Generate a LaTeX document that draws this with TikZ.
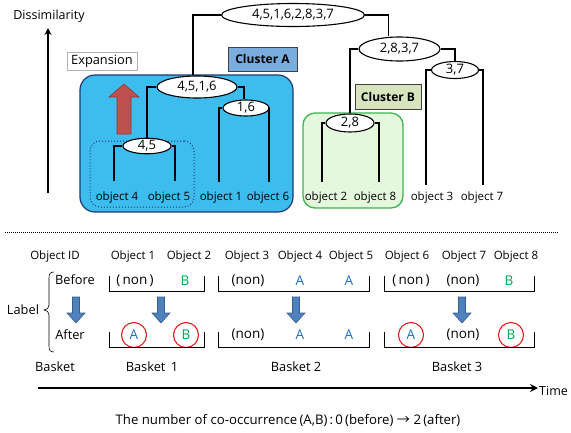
\documentclass[tikz,border=0pt]{standalone}
\usepackage{fontspec}
\setmainfont{Open Sans}
\newfontfamily\cjk{Noto Sans CJK JP}
\usetikzlibrary{shapes.geometric,arrows.meta}
\definecolor{skyA}{RGB}{61,189,238}
\definecolor{navyA}{RGB}{31,56,110}
\definecolor{clA}{RGB}{122,172,222}
\definecolor{clB}{RGB}{215,228,189}
\definecolor{grnF}{RGB}{228,248,222}
\definecolor{grnD}{RGB}{60,180,80}
\definecolor{redF}{RGB}{192,80,77}
\definecolor{redD}{RGB}{140,56,54}
\definecolor{bluF}{RGB}{79,129,189}
\definecolor{bluD}{RGB}{56,93,138}
\definecolor{txtA}{RGB}{30,110,190}
\definecolor{txtB}{RGB}{0,170,80}
\definecolor{circR}{RGB}{225,30,30}
\tikzset{
  ell/.style={ellipse,draw,fill=white,inner sep=0pt,line width=1.1pt,font=\fontsize{13}{15}\selectfont},
  dend/.style={line width=1.2pt},
  objlbl/.style={font=\fontsize{11.5}{13}\selectfont,inner sep=0pt},
  lbl/.style={font=\fontsize{11.5}{13}\selectfont,inner sep=0pt},
  rowlbl/.style={font=\fontsize{12.8}{15}\selectfont,inner sep=0pt},
  val/.style={font=\fontsize{13.5}{15}\selectfont,inner sep=0pt},
  tagbox/.style={draw=gray!70!black,line width=0.8pt,inner sep=0pt},
  circ/.style={circle,draw=circR,line width=1.1pt,minimum size=25pt,inner sep=0pt,font=\fontsize{13.5}{15}\selectfont},
  bracket/.style={line width=0.9pt},
  downarr/.pic={\filldraw[fill=bluF,draw=bluD,line width=0.6pt] (-3.5,0) -- (3.5,0) -- (3.5,16) -- (9,16) -- (0,26) -- (-9,16) -- (-3.5,16) -- cycle;},
}
\begin{document}
\begin{tikzpicture}[x=1pt,y=-1pt]
\useasboundingbox (0,0) rectangle (571,432);
% ---------- top: dendrogram ----------
\node[lbl,font=\fontsize{12.5}{14}\selectfont] (dis) at (49,16) {Dissimilarity};
\coordinate (disB) at (48,193);
\coordinate (disT) at (48,28);
\draw[line width=1.5pt,-{Stealth[length=7pt,width=7pt]}] (disB) -- (disT);

\node[tagbox,draw=gray!60,fill=white,minimum width=70pt,minimum height=18pt,font=\fontsize{12.8}{14}\selectfont] (exp) at (102,61) {Expansion};
\node[tagbox,draw=gray!50!black,fill=clA,minimum width=69pt,minimum height=24pt,font=\bfseries\fontsize{12}{14}\selectfont] (cla) at (262.5,59) {Cluster A};

\node[draw=navyA,fill=skyA,line width=1.2pt,rounded corners=15pt,minimum width=213pt,minimum height=137pt,inner sep=0pt] (boxA) at (186.5,143.5) {};
\node[draw=navyA,dotted,line width=1pt,rounded corners=10pt,minimum width=104pt,minimum height=66pt,inner sep=0pt] (box45) at (142,174) {};
\node[draw=grnD,fill=grnF,line width=1.3pt,rounded corners=12pt,minimum width=100pt,minimum height=95pt,inner sep=0pt] (boxB) at (353,160.5) {};
\node[tagbox,draw=gray!50!black,fill=clB,minimum width=66pt,minimum height=25pt,font=\bfseries\fontsize{12}{14}\selectfont] (clb) at (388,96.5) {Cluster B};

% red expansion arrow
\filldraw[fill=redF,draw=redD,line width=0.6pt] (117,134) -- (131,134) -- (131,97) -- (139,97) -- (124,84) -- (109,97) -- (117,97) -- cycle;

% ellipses
\node[ell,minimum width=143pt,minimum height=23pt] (eall) at (293,15) {4,5,1,6,2,8,3,7};
\node[ell,minimum width=81pt,minimum height=24pt] (e2837) at (399.5,49) {2,8,3,7};
\node[ell,minimum width=47pt,minimum height=17pt] (e37) at (455,70) {3,7};
\node[ell,minimum width=48pt,minimum height=18pt] (e28) at (350,123) {2,8};
\node[ell,minimum width=80pt,minimum height=22pt] (e4516) at (197,87) {4,5,1,6};
\node[ell,minimum width=46pt,minimum height=16pt] (e16) at (246,108) {1,6};
\node[ell,minimum width=48pt,minimum height=15pt] (e45) at (147,146) {4,5};

% object labels
\node[objlbl] (o4) at (117,198) {object 4};
\node[objlbl] (o5) at (169,198) {object 5};
\node[objlbl] (o1) at (221,198) {object 1};
\node[objlbl] (o6) at (268,198) {object 6};
\node[objlbl] (o2) at (326,198) {object 2};
\node[objlbl] (o8) at (375,198) {object 8};
\node[objlbl] (o3) at (432,198) {object 3};
\node[objlbl] (o7) at (482,198) {object 7};

% leaf line ends
\coordinate (l4) at (114,181);
\coordinate (l5) at (175,181);
\coordinate (l1) at (219,182);
\coordinate (l6) at (269,182);
\coordinate (l2) at (322,182);
\coordinate (l8) at (379,182);
\coordinate (l3) at (426,185);
\coordinate (l7) at (483,185);

\draw[dend] (l4) |- (e45.west);
\draw[dend] (l5) |- (e45.east);
\draw[dend] (l1) |- (e16.west);
\draw[dend] (l6) |- (e16.east);
\draw[dend] (l2) |- (e28.west);
\draw[dend] (l8) |- (e28.east);
\draw[dend] (l3) |- (e37.west);
\draw[dend] (l7) |- (e37.east);
\draw[dend] (e4516.west) -| (e45.north);
\draw[dend] (e4516.east) -| ([xshift=-2pt]e16.north);
\draw[dend] ([xshift=-4pt]e4516.north) |- (eall.west);
\draw[dend] (e2837.west) -| (e28.north);
\draw[dend] (e2837.east) -| (e37.north);
\draw[dend] (eall.east) -| ([xshift=-11pt]e2837.north);

% ---------- divider ----------
\coordinate (divL) at (5,232);
\coordinate (divR) at (558,232);
\draw[line width=1pt,dash pattern=on 1pt off 1pt] (divL) -- (divR);

% ---------- bottom table ----------
\node[lbl] (hid) at (55,257) {Object ID};
\node[lbl] (h1) at (133,257) {Object 1};
\node[lbl] (h2) at (189,257) {Object 2};
\node[lbl] (h3) at (247,257) {Object 3};
\node[lbl] (h4) at (300,257) {Object 4};
\node[lbl] (h5) at (351,257) {Object 5};
\node[lbl] (h6) at (407,257) {Object 6};
\node[lbl] (h7) at (464,257) {Object 7};
\node[lbl] (h8) at (516,257) {Object 8};

\node[rowlbl] (before) at (75,280) {Before};
\node[rowlbl] (after) at (70,335) {After};
\node[rowlbl] (label) at (23,310) {Label};
\node[rowlbl] (basket) at (55,367) {Basket};
\draw[line width=0.6pt] (54,272) .. controls (50,272) and (49,274) .. (49,278) -- (49,305) .. controls (49,308) and (47,310) .. (44,310) .. controls (47,310) and (49,312) .. (49,315) -- (49,346) .. controls (49,350) and (50,352) .. (54,352);

% before labels
\node[val] (b1) at (135,281) {(\,non\,)};
\node[val,text=txtB] (b2) at (185,281) {B};
\node[val] (b3) at (248,281) {(non)};
\node[val,text=txtA] (b4) at (300,281) {A};
\node[val,text=txtA] (b5) at (349,281) {A};
\node[val] (b6) at (411,281) {(\,non\,)};
\node[val] (b7) at (463,281) {(non)};
\node[val,text=txtB] (b8) at (509,281) {B};

% after labels
\node[circ,text=txtA] (a1) at (134,335) {A};
\node[circ,text=txtB] (a2) at (186,335) {B};
\node[val] (a3) at (248,335) {(non)};
\node[val,text=txtA] (a4) at (300,335) {A};
\node[val,text=txtA] (a5) at (349,335) {A};
\node[circ,text=txtA] (a6) at (411,335) {A};
\node[val] (a7) at (463,335) {(non)};
\node[circ,text=txtB] (a8) at (511,335) {B};

% brackets
\draw[bracket] (109,276) |- (204,291) -- (204,276);
\draw[bracket] (218,276) |- (369,291) -- (369,276);
\draw[bracket] (384,276) |- (534,291) -- (534,276);
\draw[bracket] (109,332) |- (204,347) -- (204,332);
\draw[bracket] (218,332) |- (369,347) -- (369,332);
\draw[bracket] (384,332) |- (534,347) -- (534,332);

% down arrows
\pic at (76,297) {downarr};
\pic at (161,297) {downarr};
\pic at (296,297) {downarr};
\pic at (462,297) {downarr};

\node[rowlbl] (bk1) at (152,367) {Basket\,  1};
\node[rowlbl] (bk2) at (296,367) {Basket 2};
\node[rowlbl] (bk3) at (457,367) {Basket 3};

% time axis
\coordinate (tL) at (38,388);
\coordinate (tR) at (538,388);
\draw[line width=2pt,-{Stealth[length=8pt,width=8pt]}] (tL) -- (tR);
\node[lbl,font=\fontsize{12.5}{14}\selectfont,anchor=west] (time) at (539,391) {Time};

\node[lbl,font=\fontsize{13.2}{15}\selectfont] (cooc) at (288,420) {The number of co-occurrence\,(A,B)\,:\,0\,(before)\ {\cjk →}\ 2\,(after)};
\end{tikzpicture}
\end{document}
